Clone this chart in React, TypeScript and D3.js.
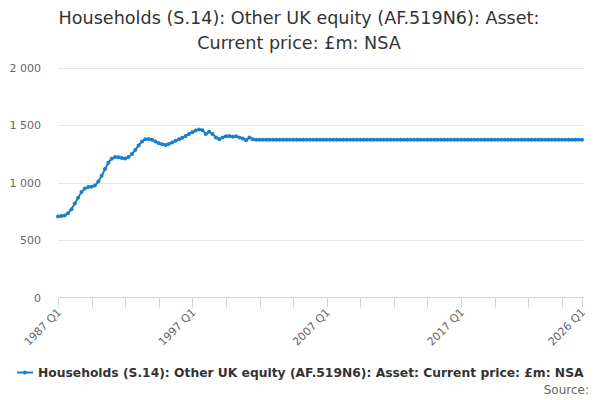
import React, { useEffect, useRef } from "react";
import * as d3 from "d3";

const WIDTH = 600;
const HEIGHT = 400;

const TITLE = [
  "Households (S.14): Other UK equity (AF.519N6): Asset:",
  "Current price: £m: NSA",
];
const SERIES_NAME =
  "Households (S.14): Other UK equity (AF.519N6): Asset: Current price: £m: NSA";

const START_YEAR = 1987;
// quarterly values, 1987 Q1 .. 2026 Q1
const values = [
  705, 710, 715, 735, 770, 820, 870, 920, 950, 962,
  965, 975, 1010, 1060, 1120, 1175, 1210, 1225, 1222, 1215,
  1212, 1225, 1250, 1285, 1325, 1360, 1378, 1382, 1375, 1360,
  1345, 1335, 1330, 1338, 1350, 1365, 1380, 1392, 1408, 1425,
  1440, 1455, 1465, 1458, 1425, 1445, 1425, 1395, 1380, 1395,
  1405, 1408, 1400, 1405, 1395, 1385, 1370, 1395, 1378, 1375,
  1375, 1375, 1375, 1375, 1375, 1375, 1375, 1375, 1375, 1375,
  1375, 1375, 1375, 1375, 1375, 1375, 1375, 1375, 1375, 1375,
  1375, 1375, 1375, 1375, 1375, 1375, 1375, 1375, 1375, 1375,
  1375, 1375, 1375, 1375, 1375, 1375, 1375, 1375, 1375, 1375,
  1375, 1375, 1375, 1375, 1375, 1375, 1375, 1375, 1375, 1375,
  1375, 1375, 1375, 1375, 1375, 1375, 1375, 1375, 1375, 1375,
  1375, 1375, 1375, 1375, 1375, 1375, 1375, 1375, 1375, 1375,
  1375, 1375, 1375, 1375, 1375, 1375, 1375, 1375, 1375, 1375,
  1375, 1375, 1375, 1375, 1375, 1375, 1375, 1375, 1375, 1375,
  1375, 1375, 1375, 1375, 1375, 1375, 1375,
];

const yTicks = [0, 500, 1000, 1500, 2000];
const tickIndexes = [0, 10, 20, 30, 40, 50, 60, 70, 80, 90, 100, 110, 120, 130, 140, 150, 156];
const labelIndexes = [0, 40, 80, 120, 156];

const quarterLabel = (i: number) =>
  `${START_YEAR + Math.floor(i / 4)} Q${(i % 4) + 1}`;

const fmt = (v: number) => d3.format(",")(v).replace(/,/g, " ");

const COLOR = "#1a7fc6";
const FONT = "'DejaVu Sans', sans-serif";

export default function App() {
  const svgRef = useRef<SVGSVGElement>(null);

  useEffect(() => {
    const svg = d3.select(svgRef.current);
    svg.selectAll("*").remove();

    const x = d3.scaleLinear().domain([0, values.length - 1]).range([58, 582]);
    const y = d3.scaleLinear().domain([0, 2000]).range([297.5, 68]);

    // title
    svg
      .append("text")
      .attr("text-anchor", "middle")
      .attr("font-family", FONT)
      .attr("font-size", 17.6)
      .attr("fill", "#333")
      .selectAll("tspan")
      .data(TITLE)
      .join("tspan")
      .attr("x", 299)
      .attr("y", (_, i) => 24 + i * 25)
      .text((d) => d);

    // grid + y labels
    const grid = svg.append("g");
    grid
      .selectAll("line")
      .data(yTicks.filter((t) => t > 0))
      .join("line")
      .attr("x1", 58)
      .attr("x2", 584)
      .attr("y1", (d) => Math.round(y(d)) + 0.5)
      .attr("y2", (d) => Math.round(y(d)) + 0.5)
      .attr("stroke", "#e6e6e6");
    grid
      .selectAll("text")
      .data(yTicks)
      .join("text")
      .attr("x", 41)
      .attr("y", (d) => y(d) + 4)
      .attr("text-anchor", "end")
      .attr("font-family", FONT)
      .attr("font-size", 11)
      .attr("fill", "#666")
      .text((d) => fmt(d));

    // x axis
    const axis = svg.append("g");
    axis
      .append("line")
      .attr("x1", 58)
      .attr("x2", 584)
      .attr("y1", 297.5)
      .attr("y2", 297.5)
      .attr("stroke", "#ccd6eb");
    axis
      .selectAll("line.tick")
      .data(tickIndexes)
      .join("line")
      .attr("class", "tick")
      .attr("x1", (d) => Math.round(x(d)) + 0.5)
      .attr("x2", (d) => Math.round(x(d)) + 0.5)
      .attr("y1", 297.5)
      .attr("y2", 307.5)
      .attr("stroke", "#ccd6eb");
    axis
      .selectAll("text")
      .data(labelIndexes)
      .join("text")
      .attr("transform", (d) => `translate(${x(d) + 4},${313}) rotate(-45)`)
      .attr("text-anchor", "end")
      .attr("font-family", FONT)
      .attr("font-size", 11)
      .attr("fill", "#666")
      .text((d) => quarterLabel(d));

    // series
    const line = d3
      .line<number>()
      .x((_, i) => x(i))
      .y((d) => y(d));
    svg
      .append("path")
      .datum(values)
      .attr("d", line)
      .attr("fill", "none")
      .attr("stroke", COLOR)
      .attr("stroke-width", 2);
    svg
      .append("g")
      .selectAll("circle")
      .data(values)
      .join("circle")
      .attr("cx", (_, i) => x(i))
      .attr("cy", (d) => y(d))
      .attr("r", 2)
      .attr("fill", COLOR);

    // legend
    const lg = svg.append("g");
    lg.append("line")
      .attr("x1", 17)
      .attr("x2", 33)
      .attr("y1", 372.5)
      .attr("y2", 372.5)
      .attr("stroke", COLOR)
      .attr("stroke-width", 2);
    lg.append("circle").attr("cx", 25).attr("cy", 372.5).attr("r", 2).attr("fill", COLOR);
    lg.append("text")
      .attr("x", 38)
      .attr("y", 377)
      .attr("font-family", FONT)
      .attr("font-size", 12.3)
      .attr("font-weight", "bold")
      .attr("fill", "#333")
      .text(SERIES_NAME);

    svg
      .append("text")
      .attr("x", 589)
      .attr("y", 394)
      .attr("text-anchor", "end")
      .attr("font-family", FONT)
      .attr("font-size", 12)
      .attr("fill", "#666")
      .text("Source:");
  }, []);

  return (
    <svg
      ref={svgRef}
      width={WIDTH}
      height={HEIGHT}
      style={{ position: "absolute", left: 0, top: 0, background: "#fff" }}
    />
  );
}
